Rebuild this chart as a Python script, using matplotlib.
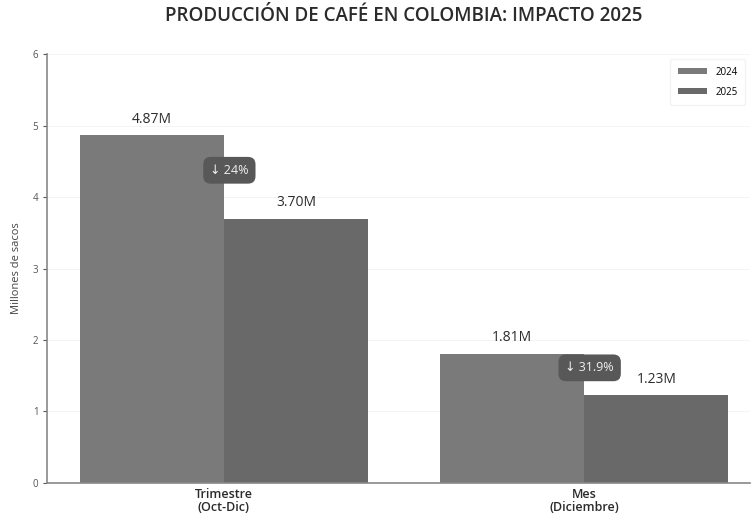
import matplotlib
matplotlib.use("Agg")
import matplotlib.pyplot as plt
import numpy as np

plt.rcParams['font.family'] = ['Open Sans', 'DejaVu Sans']

# Data
categories = ['Trimestre\n(Oct-Dic)', 'Mes\n(Diciembre)']
years = ['2024', '2025']
values_2024 = [4.87, 1.81]
values_2025 = [3.70, 1.23]
value_labels_2024 = ['4.87M', '1.81M']
value_labels_2025 = ['3.70M', '1.23M']
change_labels = ['\u2193 24%', '\u2193 31.9%']

color_2024 = '#7a7a7a'
color_2025 = '#696969'
badge_color = '#585858'
text_color = '#2b2b2b'

fig = plt.figure(figsize=(7.53, 5.26), dpi=100)
ax = fig.add_axes([0.063, 0.082, 0.933, 0.815])

x = np.arange(len(categories))
width = 0.4

bars1 = ax.bar(x - width / 2, values_2024, width, color=color_2024,
	label=years[0], zorder=2)
bars2 = ax.bar(x + width / 2, values_2025, width, color=color_2025,
	label=years[1], zorder=2)

# Value labels above bars
for bar, label in zip(bars1, value_labels_2024):
	ax.annotate(label, (bar.get_x() + bar.get_width() / 2, bar.get_height()),
		xytext=(0, 6), textcoords='offset points', ha='center', va='bottom',
		fontsize=10, color=text_color)
for bar, label in zip(bars2, value_labels_2025):
	ax.annotate(label, (bar.get_x() + bar.get_width() / 2, bar.get_height()),
		xytext=(0, 6), textcoords='offset points', ha='center', va='bottom',
		fontsize=10, color=text_color)

# Change badges between bars
for i, label in enumerate(change_labels):
	mid = (values_2024[i] + values_2025[i]) / 2 + 0.09
	ax.text(x[i] + 0.015, mid, label, ha='center', va='center', fontsize=9,
		color='#f0f0f0', zorder=4,
		bbox=dict(boxstyle='round,pad=0.55,rounding_size=0.6',
			facecolor=badge_color, edgecolor='none'))

ax.set_xlim(-0.49, 1.46)
ax.set_ylim(0, 6)
ax.set_xticks(x)
ax.set_xticklabels(categories, fontsize=9, color=text_color, linespacing=1.0,
	fontweight='semibold')
ax.set_yticks(np.arange(0, 7, 1))
ax.tick_params(axis='y', labelsize=7, colors='#555555', length=3)
ax.tick_params(axis='x', length=0, pad=4)
ax.set_ylabel('Millones de sacos', fontsize=8, color='#444444', labelpad=8)

ax.yaxis.grid(True, color='#f2f2f2', linewidth=0.6, zorder=0)
ax.set_axisbelow(True)

for side in ['top', 'right']:
	ax.spines[side].set_visible(False)
for side in ['left', 'bottom']:
	ax.spines[side].set_color('#888888')
	ax.spines[side].set_linewidth(1.2)

ax.legend(loc='upper right', fontsize=7, frameon=True, edgecolor='#f0f0f0',
	handlelength=3, handleheight=0.6, borderpad=0.8, labelspacing=0.9,
	bbox_to_anchor=(1.0, 1.0))

fig.suptitle('PRODUCCI\u00d3N DE CAF\u00c9 EN COLOMBIA: IMPACTO 2025',
	x=0.536, y=0.988, fontsize=13.5, fontweight='semibold', color='#2b2b2b')

fig.savefig('out.png', dpi=100)
